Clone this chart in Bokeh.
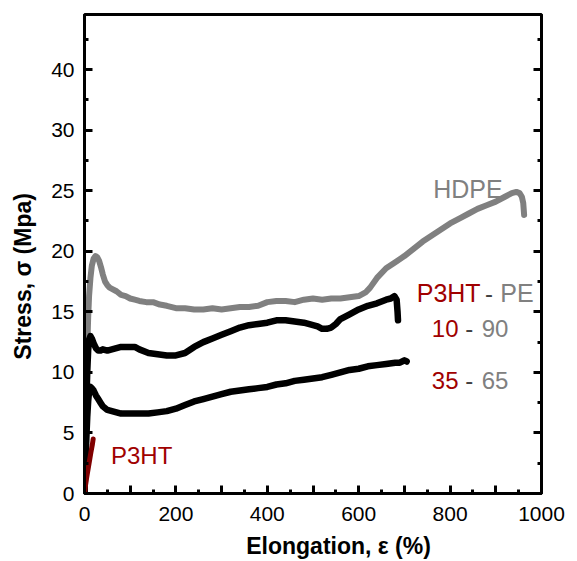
import math
from bokeh.plotting import figure
from bokeh.models import Range1d, FixedTicker, LinearAxis, Label
from bokeh.embed import file_html
from bokeh.resources import INLINE

# ---------------- data ----------------
hdpe_x = [0, 2, 4, 6, 8, 10, 13, 16, 20, 24, 28, 32, 36, 40, 45, 50, 55, 60, 70, 80, 90, 100,
          110, 120, 135, 150, 165, 180, 200, 220, 240, 260, 280, 300, 320, 340, 360, 380, 400,
          420, 440, 460, 480, 500, 520, 540, 560, 580, 600, 615, 625, 640, 660, 680, 700, 720,
          740, 760, 780, 800, 820, 840, 860, 880, 900, 920, 935, 945, 952, 957, 960, 962]
hdpe_y = [0, 4.5, 8.5, 12, 14.5, 16.3, 17.8, 18.8, 19.4, 19.6, 19.5, 19.2, 18.7, 18.1, 17.5, 17.2,
          17.0, 16.9, 16.7, 16.4, 16.3, 16.1, 16.0, 15.9, 15.8, 15.8, 15.6, 15.5, 15.3, 15.3,
          15.2, 15.2, 15.3, 15.2, 15.3, 15.4, 15.4, 15.5, 15.8, 15.9, 15.9, 15.8, 16.0, 16.1,
          16.0, 16.1, 16.1, 16.2, 16.3, 16.6, 17.0, 17.8, 18.6, 19.1, 19.6, 20.2, 20.8, 21.3,
          21.8, 22.3, 22.7, 23.1, 23.5, 23.8, 24.1, 24.5, 24.8, 24.9, 24.8, 24.5, 24.0, 23.0]

b10_x = [0, 2, 4, 6, 8, 10, 13, 16, 20, 25, 30, 35, 40, 50, 60, 70, 80, 90, 100, 110, 120, 140,
         160, 180, 200, 220, 240, 260, 280, 300, 320, 340, 360, 380, 400, 420, 440, 460, 480,
         500, 510, 520, 530, 540, 550, 560, 580, 600, 620, 640, 660, 670, 678, 683, 685, 686]
b10_y = [0, 4, 7.5, 10, 11.8, 12.7, 13.0, 12.8, 12.4, 12.0, 11.8, 11.8, 11.9, 11.8, 11.9, 12.0,
         12.1, 12.1, 12.1, 12.1, 11.9, 11.6, 11.5, 11.4, 11.4, 11.6, 12.1, 12.5, 12.8, 13.1,
         13.4, 13.7, 13.9, 14.0, 14.1, 14.3, 14.3, 14.2, 14.1, 13.9, 13.8, 13.6, 13.6, 13.7,
         14.0, 14.4, 14.8, 15.2, 15.5, 15.7, 16.0, 16.1, 16.3, 16.0, 15.0, 14.3]

b35_x = [0, 2, 4, 6, 8, 10, 13, 16, 20, 25, 30, 35, 40, 50, 60, 70, 80, 90, 100, 120, 140, 160,
         180, 200, 220, 240, 260, 280, 300, 320, 340, 360, 380, 400, 420, 440, 460, 480, 500,
         520, 540, 560, 580, 600, 620, 640, 660, 680, 690, 700, 705]
b35_y = [0, 2.5, 4.5, 6.3, 7.6, 8.4, 8.8, 8.7, 8.5, 8.1, 7.8, 7.5, 7.2, 6.9, 6.8, 6.7, 6.6, 6.6,
         6.6, 6.6, 6.6, 6.7, 6.8, 7.0, 7.3, 7.6, 7.8, 8.0, 8.2, 8.4, 8.5, 8.6, 8.7, 8.8, 9.0,
         9.1, 9.3, 9.4, 9.5, 9.6, 9.8, 10.0, 10.2, 10.3, 10.5, 10.6, 10.7, 10.8, 10.8, 11.0, 10.9]

p3ht_x = [0, 3, 6, 10, 14, 17, 19]
p3ht_y = [0, 0.9, 1.6, 2.5, 3.4, 4.0, 4.5]

x_tick_values = [0, 100, 200, 300, 400, 500, 600, 700, 800, 900, 1000]
x_tick_labels = ["0", "", "200", "", "400", "", "600", "", "800", "", "1000"]
x_minor_ticks = [50, 150, 250, 350, 450, 550, 650, 750, 850, 950]
y_tick_values = [0, 5, 10, 15, 20, 25, 30, 35]
y_tick_labels = ["0", "5", "10", "15", "20", "25", "30", "40"]
y_minor_ticks = [2.5, 7.5, 12.5, 17.5, 22.5, 27.5, 32.5, 37.5]

x_title = "Elongation, \u03b5 (%)"
y_title = "Stress, \u03c3 (Mpa)"

FONT = "Liberation Sans"
GRAY = "#808080"
RED_TXT = "#A00000"
RED_LINE = "#800000"
DASH = "#404040"
NB = "\u00a0"

p = figure(frame_width=457, frame_height=479,
           x_range=Range1d(0, 1000), y_range=Range1d(0, 39.55),
           output_backend="svg", toolbar_location=None,
           min_border_left=84, min_border_top=14, min_border_right=30, min_border_bottom=66)
p.xgrid.visible = False
p.ygrid.visible = False
p.outline_line_color = "black"
p.outline_line_width = 3
p.background_fill_color = "white"
p.border_fill_color = "white"

def style_axis(ax):
    ax.axis_line_width = 3
    ax.axis_line_color = "black"
    ax.major_tick_in = 8
    ax.major_tick_out = 0
    ax.minor_tick_in = 4
    ax.minor_tick_out = 0
    ax.major_tick_line_width = 3
    ax.minor_tick_line_width = 3
    ax.major_label_text_font = FONT
    ax.major_label_text_font_size = "21px"
    ax.major_label_text_color = "black"
    ax.axis_label_text_font = FONT
    ax.axis_label_text_font_size = "23px"
    ax.axis_label_text_font_style = "bold"
    ax.axis_label_text_color = "black"

xa = p.xaxis[0]
style_axis(xa)
xa.ticker = FixedTicker(ticks=x_tick_values, minor_ticks=x_minor_ticks)
xa.major_label_overrides = {v: l for v, l in zip(x_tick_values, x_tick_labels)}
xa.major_label_standoff = 13
xa.axis_label = NB * 8 + x_title
xa.axis_label_standoff = 9

ya = p.yaxis[0]
style_axis(ya)
ya.ticker = FixedTicker(ticks=y_tick_values, minor_ticks=y_minor_ticks)
ya.major_label_overrides = {v: l for v, l in zip(y_tick_values, y_tick_labels)}
ya.major_label_standoff = 10
ya.axis_label = y_title + NB * 7
ya.axis_label_standoff = 12

ra = LinearAxis()
style_axis(ra)
ra.ticker = FixedTicker(ticks=y_tick_values, minor_ticks=y_minor_ticks)
ra.major_label_overrides = {v: "" for v in y_tick_values}
ra.major_label_text_font_size = "0px"
ra.major_label_standoff = 0
p.add_layout(ra, "right")

# curves
p.line(hdpe_x, hdpe_y, line_color=GRAY, line_width=6, line_join="round", line_cap="round")
p.line(b10_x, b10_y, line_color="black", line_width=6.5, line_join="round", line_cap="round")
p.line(b35_x, b35_y, line_color="black", line_width=6.5, line_join="round", line_cap="round")
p.line(p3ht_x, p3ht_y, line_color=RED_LINE, line_width=5, line_join="round", line_cap="round")

def lab(text, x, y, color, size="24px", align="left"):
    p.add_layout(Label(x=x, y=y, text=text, text_font=FONT, text_font_size=size,
                       text_color=color, text_align=align, text_baseline="alphabetic"))

lab("HDPE", 763, 25.14, GRAY, size="25px")
lab("P3HT", 727, 16.52, RED_TXT, size="25px")
lab("-", 885, 16.52, DASH, align="center")
lab("PE", 910, 16.52, GRAY, size="25px")
lab("10", 760, 13.62, RED_TXT)
lab("-", 842, 13.62, DASH, align="center")
lab("90", 869, 13.62, GRAY)
lab("35", 760, 9.33, RED_TXT)
lab("-", 842, 9.33, DASH, align="center")
lab("65", 869, 9.33, GRAY)
lab("P3HT", 58, 3.14, RED_TXT)

open("out.html", "w").write(file_html(p, INLINE))
